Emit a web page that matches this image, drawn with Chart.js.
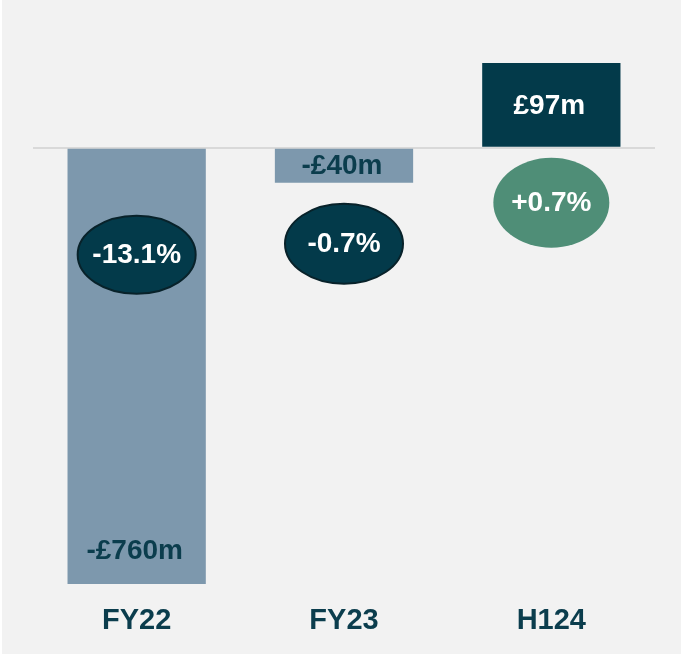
<!DOCTYPE html>
<html>
<head>
<meta charset="utf-8">
<script src="https://cdn.jsdelivr.net/npm/chart.js@4"></script>
<style>
  body { margin: 0; background: #fff; }
  #wrap { padding-left: 2px; width: 679px; height: 654px; }
  canvas { background: #f2f2f2; display: block; }
</style>
</head>
<body>
<div id="wrap"><canvas id="chart" width="679" height="654"></canvas></div>
<script>
const periods = ["FY22", "FY23", "H124"];
const profit = [-760, -40, 97]; // £m
const profitLabels = ["-£760m", "-£40m", "£97m"];
const margins = ["-13.1%", "-0.7%", "+0.7%"];

const font = '"Liberation Sans", Arial, sans-serif';
const dark = "#033a4a";
const light = "#7d98ad";

// bubbles + value labels drawn over the bars
const extras = {
  id: "extras",
  afterDatasetsDraw(chart) {
    const ctx = chart.ctx;
    const meta = chart.getDatasetMeta(0);
    const area = chart.chartArea;
    const y0 = chart.scales.y.getPixelForValue(0);
    const bubbleDy = [107, 96, 55];
    const bubbleR = [[59, 39], [59, 40], [58, 45]];
    const bubbleFill = [dark, dark, "#4f8e77"];

    meta.data.forEach((bar, i) => {
      ctx.save();
      // value label
      let ly;
      const top = Math.max(Math.min(bar.y, bar.base), area.top);
      const bot = Math.min(Math.max(bar.y, bar.base), area.bottom);
      if (bar.y > area.bottom) ly = area.bottom - 34;
      else ly = (top + bot) / 2;
      ctx.font = "bold 28px " + font;
      ctx.fillStyle = profit[i] > 0 ? "#ffffff" : "#0b3d4d";
      ctx.textAlign = "center";
      ctx.textBaseline = "middle";
      ctx.fillText(profitLabels[i], bar.x - 2, ly + 1);

      // margin bubble
      const cx = bar.x, cy = y0 + bubbleDy[i];
      ctx.beginPath();
      ctx.ellipse(cx, cy, bubbleR[i][0], bubbleR[i][1], 0, 0, Math.PI * 2);
      ctx.fillStyle = bubbleFill[i];
      ctx.fill();
      if (profit[i] < 0) {
        ctx.lineWidth = 2;
        ctx.strokeStyle = "#08222a";
        ctx.stroke();
      }
      ctx.fillStyle = "#ffffff";
      ctx.font = "bold 28px " + font;
      ctx.fillText(margins[i], cx, cy + 1);
      ctx.restore();
    });
  }
};

new Chart(document.getElementById("chart"), {
  type: "bar",
  data: {
    labels: periods,
    datasets: [{
      data: profit,
      backgroundColor: profit.map(v => v < 0 ? light : dark),
      categoryPercentage: 1,
      barPercentage: 0.667,
      borderWidth: 0
    }]
  },
  options: {
    responsive: false,
    animation: false,
    layout: { padding: { left: 31, right: 26, top: 0, bottom: 0 } },
    plugins: { legend: { display: false }, tooltip: { enabled: false } },
    scales: {
      x: {
        grid: { display: false, drawTicks: false },
        border: { display: false },
        afterFit: s => { s.height = 70; },
        ticks: {
          color: "#0b3d4d",
          padding: 20,
          font: { family: font, size: 29, weight: "bold" }
        }
      },
      y: {
        min: -499,
        max: 169,
        ticks: { display: false },
        border: { display: false },
        grid: {
          drawTicks: false,
          lineWidth: 2,
          color: c => c.tick.value === 0 ? "#d9d9d9" : "rgba(0,0,0,0)"
        }
      }
    }
  },
  plugins: [extras]
});
</script>
</body>
</html>
